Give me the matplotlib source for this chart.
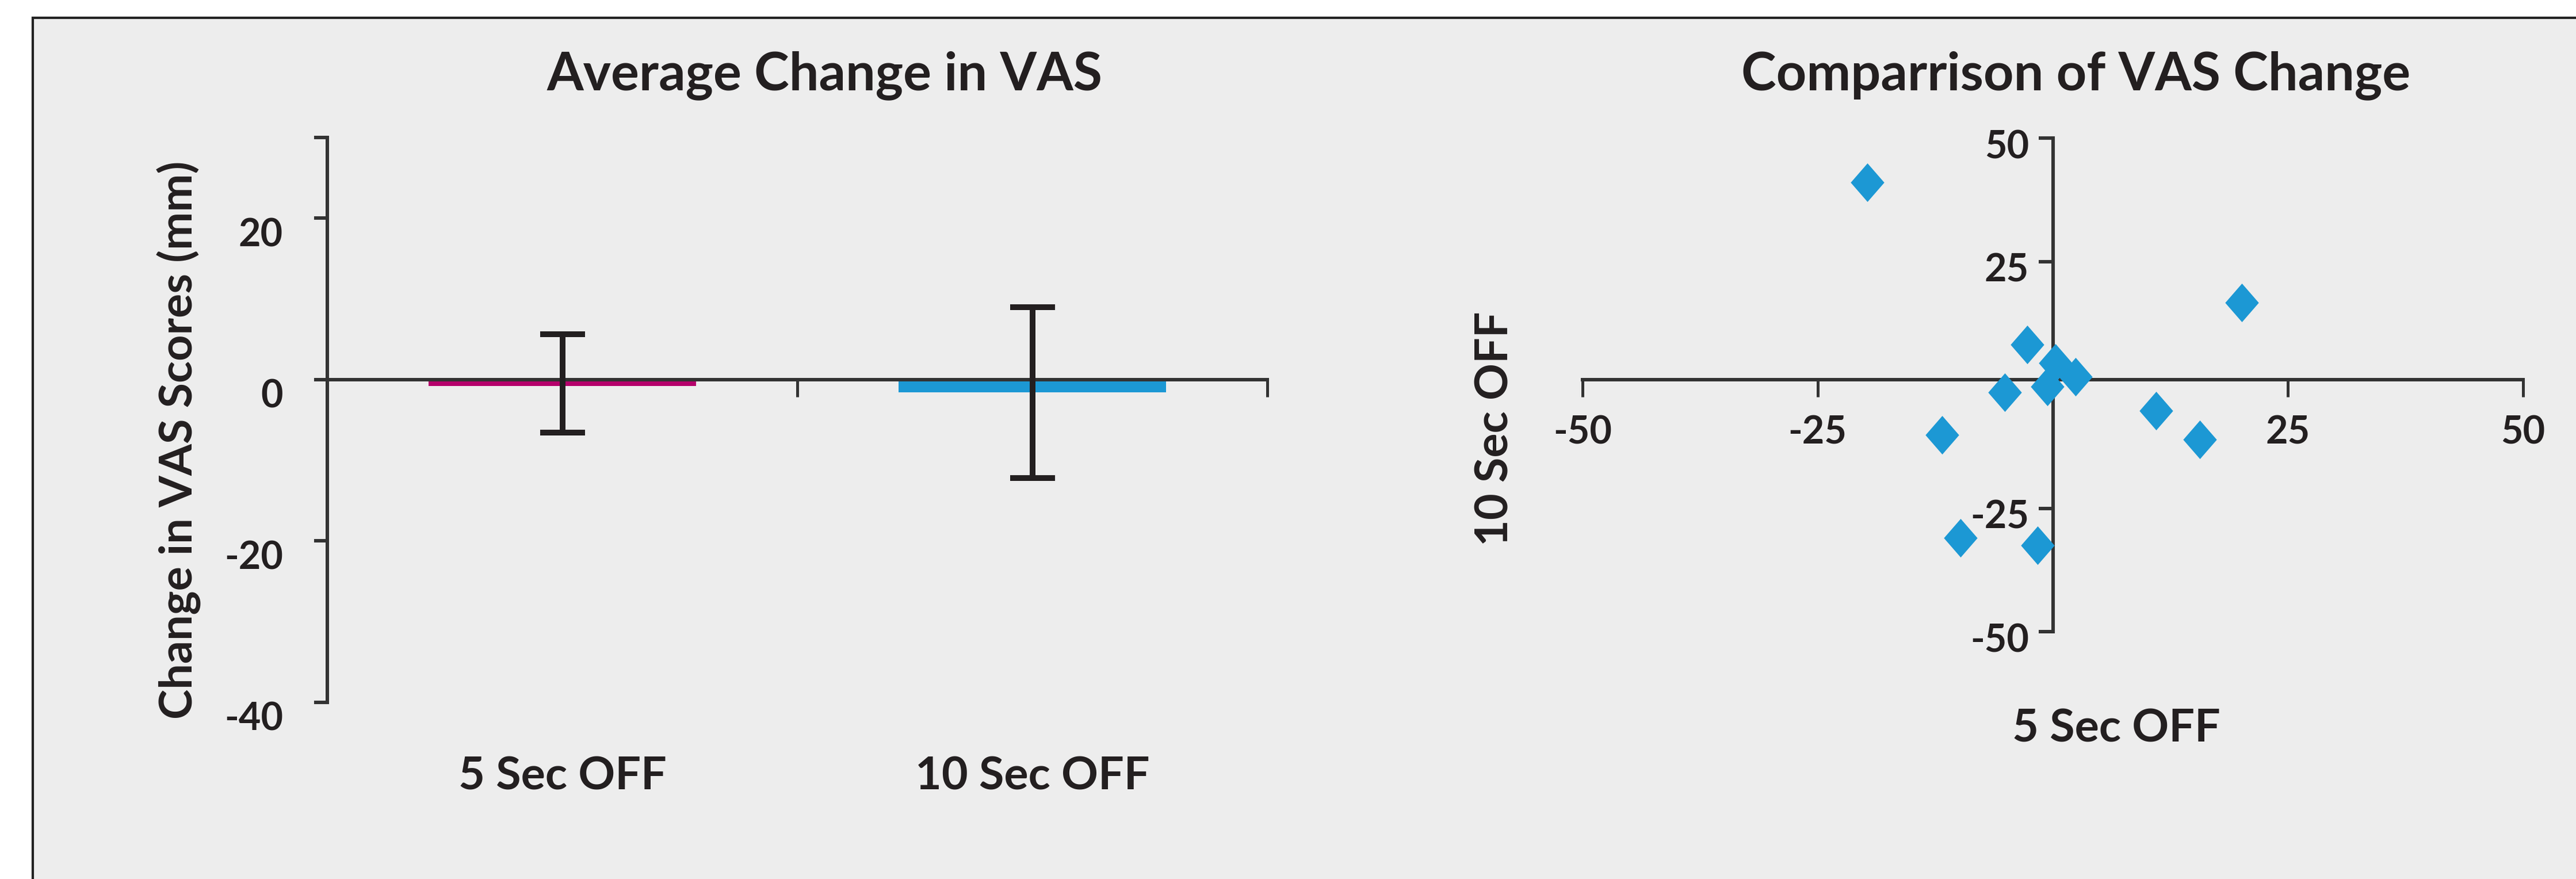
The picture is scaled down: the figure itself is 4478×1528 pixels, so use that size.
import matplotlib
matplotlib.use('Agg')
import matplotlib.pyplot as plt
from matplotlib.patches import Rectangle
from matplotlib.path import Path
from matplotlib.markers import MarkerStyle
from matplotlib.transforms import ScaledTranslation

# ---------------- data ----------------
bar_categories = ['5 Sec OFF', '10 Sec OFF']
bar_means = [-0.78, -1.57]
err_low = [5.77, 10.65]
err_high = [6.40, 10.52]
bar_colors = ['#B5006B', '#1C98D4']

left_yticks = [-40, -20, 0, 20, 30]
left_yticklabels = ['-40', '-20', '0', '20', '']

sec5_change = [-19.7, -2.7, 0.3, 2.4, -0.6, -5.1, -11.8, -9.8, -1.6, 11.0, 15.6, 20.1]
sec10_change = [41.0, 8.2, 4.4, 1.6, -0.35, -1.5, -10.1, -31.0, -32.5, -5.2, -11.1, 16.7]
right_ticks = [-50, -25, 25, 50]
right_ticklabels = ['-50', '-25', '25', '50']

title_left = 'Average Change in VAS'
title_right = 'Comparrison of VAS Change'
ylabel_left = 'Change in VAS Scores (mm)'
xlabel_right = '5 Sec OFF'
ylabel_right = '10 Sec OFF'

# ---------------- style ----------------
W, H, DPI = 4478, 1528, 300
plt.rcParams['font.family'] = ['Lato', 'DejaVu Sans']
TXT = '#231F20'
AX = '#333333'
BG = '#EDEDED'

fig = plt.figure(figsize=(W / DPI, H / DPI), dpi=DPI, facecolor='white')

def fx(px):
    return px / W

def fy(py):
    return 1 - py / H

# panel background with border (cropped on right/bottom)
fig.patches.append(Rectangle((fx(57), -0.1), 1.2, fy(31) + 0.1, transform=fig.transFigure,
                             facecolor=BG, edgecolor='#222222', linewidth=1.0, zorder=-5))

# ---------------- left: bar chart ----------------
axL = fig.add_axes([fx(569), fy(1221), fx(2203) - fx(569), fy(239) - fy(1221)])
axL.set_facecolor('none')
xpos = [0.5, 1.5]
axL.bar(xpos, bar_means, width=0.57, color=bar_colors, zorder=1)
axL.errorbar(xpos, bar_means, yerr=[err_low, err_high], fmt='none', ecolor=TXT,
             elinewidth=2.4, capsize=9.4, capthick=2.4, zorder=3)
axL.set_xlim(0, 2)
axL.set_ylim(-40, 30)
for s in ['top', 'right']:
    axL.spines[s].set_visible(False)
axL.spines['bottom'].set_position(('data', 0))
for s in ['left', 'bottom']:
    axL.spines[s].set_color(AX)
    axL.spines[s].set_linewidth(1.45)
axL.set_xticks([1, 2])
axL.set_xticklabels([])
axL.tick_params(axis='x', direction='out', length=7.2, width=1.2, color=AX)
axL.set_yticks(left_yticks)
axL.set_yticklabels(left_yticklabels, fontsize=16, fontweight='bold', color=TXT)
axL.tick_params(axis='y', direction='out', length=5.5, width=1.45, color=AX, pad=13)
for lab in axL.get_yticklabels():
    lab.set_transform(lab.get_transform() + ScaledTranslation(0, -24 / DPI, fig.dpi_scale_trans))
for x, c in zip(xpos, bar_categories):
    axL.text(x, -0.1314, c, transform=axL.get_xaxis_transform(), ha='center', va='center',
             fontsize=19, fontweight='bold', color=TXT)

fig.text(fx(1434), fy(131), title_left, ha='center', va='center', fontsize=22,
         fontweight='bold', color=TXT)
fig.text(fx(311), fy(765), ylabel_left, ha='center', va='center', rotation=90,
         fontsize=19, fontweight='bold', color=TXT)

# ---------------- right: scatter ----------------
axR = fig.add_axes([fx(2751), fy(1098), fx(4386) - fx(2751), fy(240) - fy(1098)])
axR.set_facecolor('none')
diamond = Path([(0, 1), (0.87, 0), (0, -1), (-0.87, 0), (0, 1)],
               [Path.MOVETO, Path.LINETO, Path.LINETO, Path.LINETO, Path.CLOSEPOLY])
axR.scatter(sec5_change, sec10_change, marker=MarkerStyle(diamond), s=16.1 ** 2,
            color='#1C98D4', linewidths=0, zorder=3)
axR.set_xlim(-50, 50)
axR.set_ylim(-50, 50)
for s in ['top', 'right']:
    axR.spines[s].set_visible(False)
axR.spines['left'].set_position(('data', 0))
axR.spines['bottom'].set_position(('axes', (1098 - 660) / (1098 - 240)))
for s in ['left', 'bottom']:
    axR.spines[s].set_color(AX)
    axR.spines[s].set_linewidth(1.45)
axR.set_xticks(right_ticks)
axR.set_xticklabels(right_ticklabels, fontsize=16, fontweight='bold', color=TXT)
axR.tick_params(axis='x', direction='out', length=7.2, width=1.2, color=AX, pad=7.5)
axR.set_yticks(right_ticks)
axR.set_yticklabels(right_ticklabels, fontsize=16, fontweight='bold', color=TXT)
axR.tick_params(axis='y', direction='out', length=6, width=1.45, color=AX, pad=4)
for lab in axR.get_yticklabels():
    lab.set_transform(lab.get_transform() + ScaledTranslation(0, -10 / DPI, fig.dpi_scale_trans))

fig.text(fx(3609), fy(131), title_right, ha='center', va='center', fontsize=22,
         fontweight='bold', color=TXT)
fig.text(fx(3679), fy(1267), xlabel_right, ha='center', va='center', fontsize=19,
         fontweight='bold', color=TXT)
fig.text(fx(2599), fy(745), ylabel_right, ha='center', va='center', rotation=90,
         fontsize=19, fontweight='bold', color=TXT)

fig.savefig('out.png', dpi=DPI, facecolor='white')
